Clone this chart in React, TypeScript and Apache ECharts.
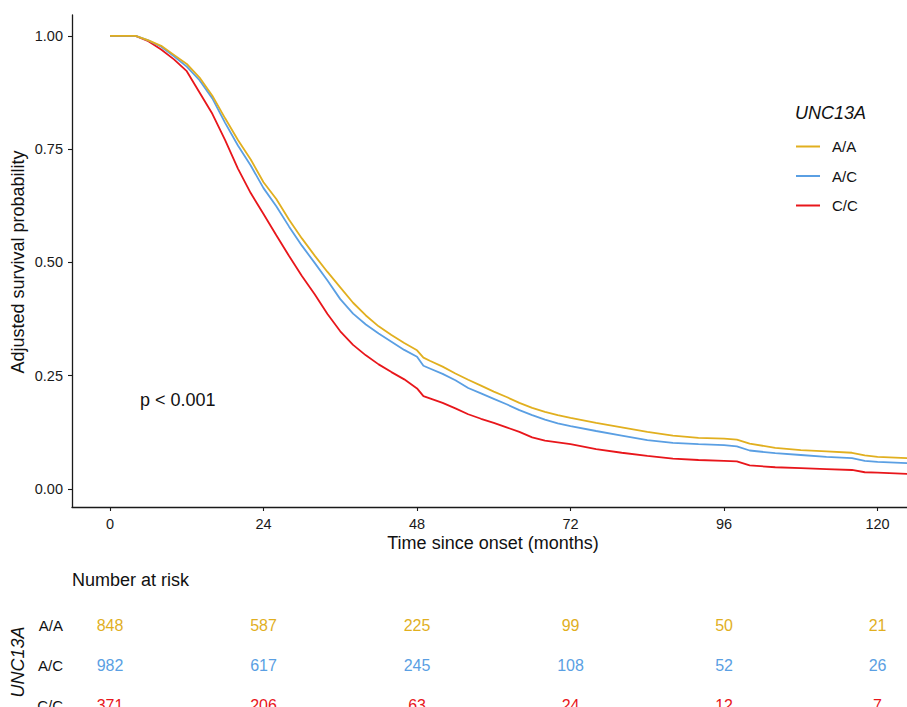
import React, { useEffect, useRef } from "react";
import * as echarts from "echarts";

const FONT = "'Liberation Sans', Arial, Helvetica, sans-serif";

const genotypes = ["A/A", "A/C", "C/C"];
const colors = ["#E1AF1F", "#5A9FE3", "#E8161B"];

const months = [0, 4, 6, 8, 10, 12, 14, 16, 18, 20, 22, 24, 26, 28, 30, 32, 34, 36, 38, 40, 42, 44, 46, 48, 49, 50, 52, 54, 56, 58, 60, 62, 64, 66, 68, 70, 72, 76, 80, 84, 88, 92, 96, 98, 100, 104, 108, 112, 116, 118, 120, 125];

const survAA = [1, 1, 0.99, 0.978, 0.958, 0.938, 0.908, 0.868, 0.818, 0.77, 0.727, 0.677, 0.64, 0.594, 0.553, 0.515, 0.479, 0.445, 0.411, 0.383, 0.359, 0.34, 0.322, 0.306, 0.29, 0.283, 0.27, 0.255, 0.241, 0.228, 0.215, 0.203, 0.19, 0.179, 0.17, 0.163, 0.157, 0.146, 0.136, 0.126, 0.118, 0.113, 0.111, 0.109, 0.1, 0.091, 0.086, 0.083, 0.08, 0.074, 0.071, 0.068];

const survAC = [1, 1, 0.99, 0.976, 0.955, 0.932, 0.902, 0.862, 0.808, 0.758, 0.714, 0.664, 0.624, 0.579, 0.537, 0.499, 0.46, 0.419, 0.387, 0.363, 0.343, 0.325, 0.307, 0.292, 0.272, 0.266, 0.254, 0.24, 0.223, 0.211, 0.199, 0.187, 0.174, 0.163, 0.153, 0.145, 0.139, 0.128, 0.118, 0.108, 0.102, 0.099, 0.097, 0.094, 0.085, 0.079, 0.075, 0.071, 0.068, 0.062, 0.06, 0.057];

const survCC = [1, 1, 0.988, 0.97, 0.948, 0.922, 0.875, 0.828, 0.77, 0.707, 0.653, 0.607, 0.56, 0.514, 0.47, 0.43, 0.386, 0.348, 0.318, 0.295, 0.275, 0.258, 0.242, 0.222, 0.205, 0.2, 0.19, 0.178, 0.165, 0.155, 0.146, 0.136, 0.126, 0.114, 0.107, 0.103, 0.099, 0.088, 0.08, 0.073, 0.067, 0.064, 0.062, 0.061, 0.052, 0.048, 0.046, 0.044, 0.042, 0.037, 0.036, 0.033];

const tickMonths = [0, 24, 48, 72, 96, 120];
const tickProb = [0, 0.25, 0.5, 0.75, 1];

const riskAA = [848, 587, 225, 99, 50, 21];
const riskAC = [982, 617, 245, 108, 52, 26];
const riskCC = [371, 206, 63, 24, 12, 7];

const X_MIN = -5.94;
const X_MAX = 124.6;

export default function App() {
  const ref = useRef<HTMLDivElement>(null);

  useEffect(() => {
    const chart = echarts.init(ref.current!, null, { renderer: "svg" });
    const survs = [survAA, survAC, survCC];
    const risks = [riskAA, riskAC, riskCC];
    const axisColor = "#1a1a1a";

    const lineSeries = genotypes.map((g, gi) => ({
      type: "line",
      name: g,
      xAxisIndex: 0,
      yAxisIndex: 0,
      symbol: "none",
      showSymbol: false,
      data: months.map((m, i) => [m, survs[gi][i]]),
      lineStyle: { color: colors[gi], width: 1.8 },
      itemStyle: { color: colors[gi] },
      z: 3 - gi,
    }));

    const riskSeries = genotypes.map((g, gi) => ({
      type: "scatter",
      name: "risk " + g,
      xAxisIndex: 1,
      yAxisIndex: 1,
      symbolSize: 1,
      itemStyle: { color: "rgba(0,0,0,0)" },
      data: tickMonths.map((t, i) => [t, gi, risks[gi][i]]),
      label: {
        show: true,
        position: "inside",
        formatter: (p: any) => String(p.value[2]),
        color: colors[gi],
        textBorderWidth: 0,
        opacity: 1,
        fontSize: 16,
        fontFamily: FONT,
      },
    }));

    chart.setOption({
      animation: false,
      backgroundColor: "#ffffff",
      textStyle: { fontFamily: FONT },
      grid: [
        { left: 72, right: 0, top: 15, height: 492, outerBoundsMode: "none", containLabel: false },
        { left: 72, right: 0, top: 605, height: 102, outerBoundsMode: "none", containLabel: false },
      ],
      xAxis: [
        {
          gridIndex: 0,
          type: "value",
          min: X_MIN,
          max: X_MAX,
          axisLine: { show: true, onZero: false, lineStyle: { color: axisColor, width: 1.3 } },
          axisTick: { show: true, length: 4, customValues: tickMonths, lineStyle: { color: axisColor, width: 1.1 } },
          axisLabel: { customValues: tickMonths, fontSize: 14.5, color: axisColor, margin: 9, fontFamily: FONT },
          splitLine: { show: false },
        },
        { gridIndex: 1, type: "value", min: X_MIN, max: X_MAX, show: false },
      ],
      yAxis: [
        {
          gridIndex: 0,
          type: "value",
          min: -0.0397,
          max: 1.046,
          axisLine: { show: true, onZero: false, lineStyle: { color: axisColor, width: 1.3 } },
          axisTick: { show: true, length: 4, customValues: tickProb, lineStyle: { color: axisColor, width: 1.1 } },
          axisLabel: {
            customValues: tickProb,
            fontSize: 14.5,
            color: axisColor,
            margin: 9,
            fontFamily: FONT,
            formatter: (v: number) => v.toFixed(2),
          },
          splitLine: { show: false },
        },
        {
          gridIndex: 1,
          type: "value",
          min: -0.494,
          max: 2.025,
          inverse: true,
          axisLine: { show: false, onZero: false },
          axisTick: { show: false },
          axisLabel: {
            customValues: [0, 1, 2],
            formatter: (v: number) => genotypes[Math.round(v)] ?? "",
            fontSize: 15,
            color: "#111",
            margin: 9,
            fontFamily: FONT,
            hideOverlap: false,
          },
          splitLine: { show: false },
        },
      ],
      legend: {
        data: genotypes,
        orient: "vertical",
        left: 796,
        top: 139,
        padding: 0,
        icon: "rect",
        itemWidth: 24,
        itemHeight: 2,
        itemGap: 14.5,
        textStyle: { fontSize: 15, lineHeight: 15, color: "#111", fontFamily: FONT, padding: [0, 0, 0, 7] },
      },
      graphic: [
        {
          type: "text",
          x: 18,
          y: 262,
          rotation: Math.PI / 2,
          style: { text: "Adjusted survival probability", fontSize: 18, fontFamily: FONT, fill: "#111", align: "center", verticalAlign: "middle" },
        },
        {
          type: "text",
          x: 493,
          y: 543,
          style: { text: "Time since onset (months)", fontSize: 18, fontFamily: FONT, fill: "#111", align: "center", verticalAlign: "middle" },
        },
        {
          type: "text",
          x: 140,
          y: 400,
          style: { text: "p < 0.001", fontSize: 18, fontFamily: FONT, fill: "#111", align: "left", verticalAlign: "middle" },
        },
        {
          type: "text",
          x: 795,
          y: 113,
          style: { text: "UNC13A", fontSize: 18, fontStyle: "italic", fontFamily: FONT, fill: "#111", align: "left", verticalAlign: "middle" },
        },
        {
          type: "text",
          x: 72,
          y: 580,
          style: { text: "Number at risk", fontSize: 18, fontFamily: FONT, fill: "#111", align: "left", verticalAlign: "middle" },
        },
        {
          type: "text",
          x: 18,
          y: 662,
          rotation: Math.PI / 2,
          style: { text: "UNC13A", fontSize: 18, fontStyle: "italic", fontFamily: FONT, fill: "#111", align: "center", verticalAlign: "middle" },
        },
      ],
      series: [...lineSeries, ...riskSeries],
    });

    return () => chart.dispose();
  }, []);

  return (
    <div
      ref={ref}
      style={{ position: "fixed", left: 0, top: 0, width: 907, height: 707, background: "#fff" }}
    />
  );
}
